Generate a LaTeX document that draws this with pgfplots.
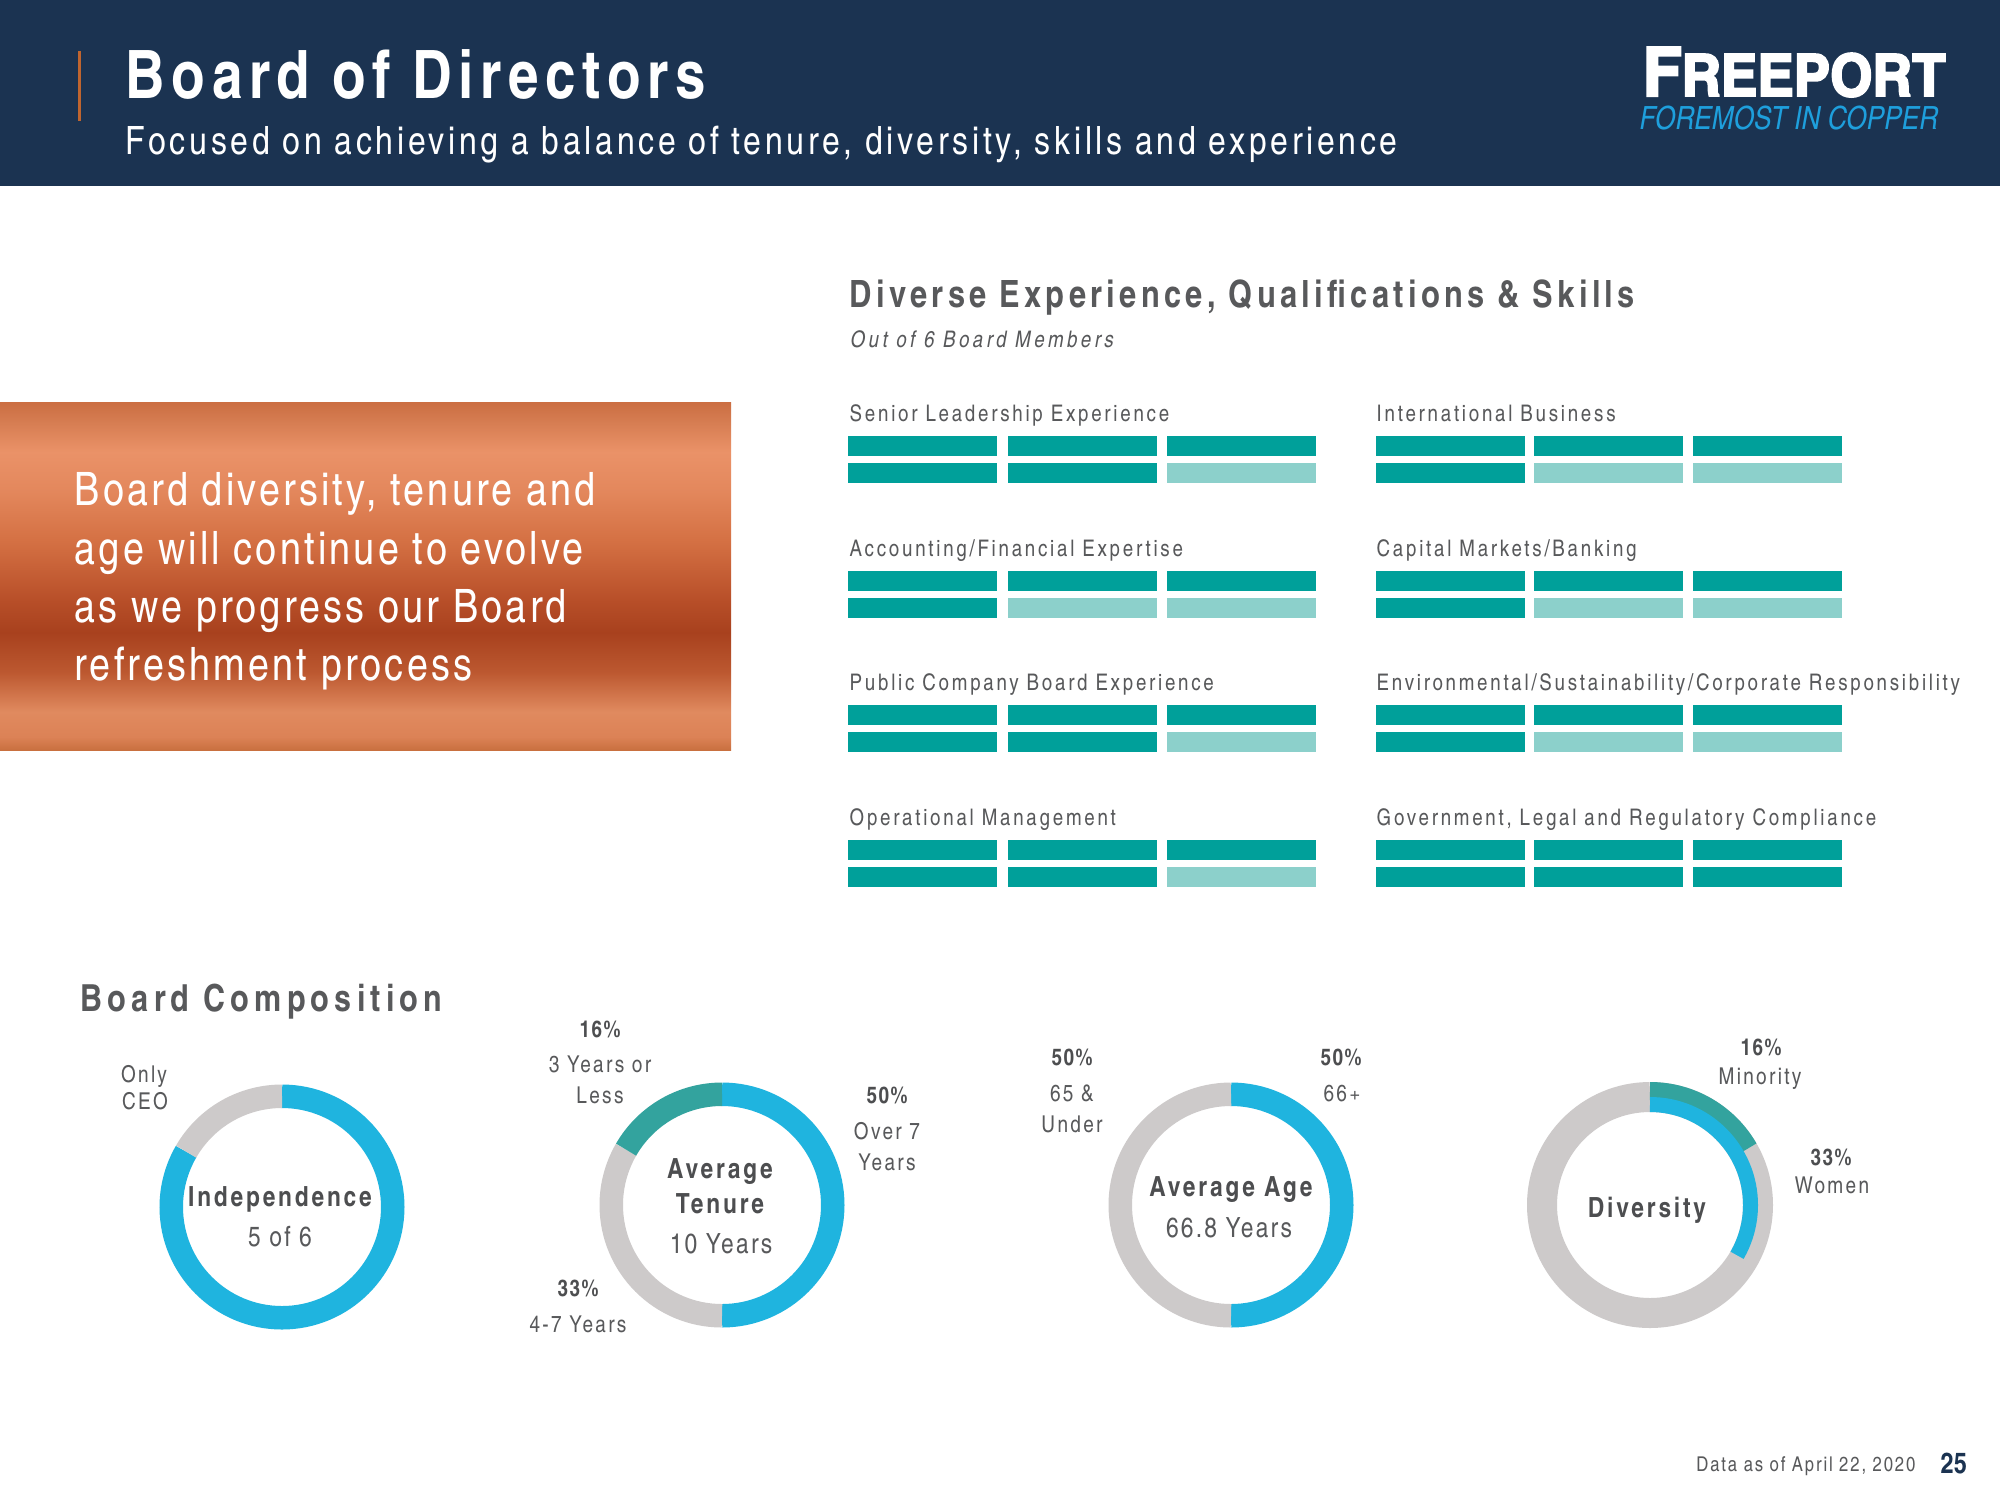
\documentclass[border=0pt]{standalone}
\usepackage{fontspec}
\usepackage{pgfplots}
\usepackage{pgfplotstable}
\pgfplotsset{compat=1.18}

\setmainfont{texgyreheroscn}[Extension=.otf,UprightFont=*-regular,BoldFont=*-bold,ItalicFont=*-italic,BoldItalicFont=*-bolditalic]
% condensed Heros with some tracking
\newcommand\mkfam[2]{\newfontfamily#1{texgyreheroscn}[Extension=.otf,UprightFont=*-regular,BoldFont=*-bold,ItalicFont=*-italic,BoldItalicFont=*-bolditalic,LetterSpace=#2]}
\mkfam\fcu{7}
\mkfam\fsub{9.5}
\mkfam\fti{10}
\mkfam\fdiv{11.5}
\mkfam\fsk{12}
\mkfam\fwide{14}
\mkfam\fout{15}
\mkfam\ffoot{9}
\mkfam\fnum{8}
\mkfam\flab{10}
\mkfam\fb{6}
\newfontfamily\flogo{texgyreheroscn}[Extension=.otf,UprightFont=*-bold,FakeBold=3]
\newcommand\fs[1]{\fontsize{#1pt}{#1pt}\selectfont}

\definecolor{navy}{HTML}{1B3351}
\definecolor{accent}{HTML}{C0652F}
\definecolor{txt}{HTML}{58595B}
\definecolor{txtd}{HTML}{4D4E50}
\definecolor{barD}{HTML}{00A09A}
\definecolor{barL}{HTML}{8CD0CB}
\definecolor{ringB}{HTML}{1FB4DF}
\definecolor{ringG}{HTML}{CDCACA}
\definecolor{ringT}{HTML}{33A39E}
\definecolor{fcxblue}{HTML}{1E9FDC}
\definecolor{cu0}{HTML}{CB6E42}
\definecolor{cu1}{HTML}{D67D52}
\definecolor{cu2}{HTML}{EA9268}
\definecolor{cu3}{HTML}{E3875C}
\definecolor{cu4}{HTML}{D47043}
\definecolor{cu5}{HTML}{B74E28}
\definecolor{cu6}{HTML}{A8411E}
\definecolor{cu7}{HTML}{BC5830}
\definecolor{cu8}{HTML}{E08A5F}
\definecolor{cu9}{HTML}{DC8256}
\definecolor{cu10}{HTML}{C9703F}

\pgfdeclareverticalshading{copper}{100bp}{color(0bp)=(cu10); color(25bp)=(cu10);
  color(26.9bp)=(cu9); color(30.5bp)=(cu8); color(36.2bp)=(cu7); color(41.9bp)=(cu6);
  color(46.3bp)=(cu5); color(54.9bp)=(cu4); color(62.1bp)=(cu3); color(67.8bp)=(cu2);
  color(72.1bp)=(cu1); color(75bp)=(cu0); color(100bp)=(cu0)}

% one skill segment, 149 x 20 px
\pgfdeclareplotmark{seg}{\pgfpathrectangle{\pgfpoint{-0.745cm}{-0.1cm}}{\pgfpoint{1.49cm}{0.2cm}}\pgfusepath{fill}}

% skill segments: centre x, centre y (px), d = has skill, l = not
\pgfplotstableread{
x y c
922.5 446 d
1082 446 d
1241.5 446 d
922.5 473 d
1082 473 d
1241.5 473 l
922.5 581 d
1082 581 d
1241.5 581 d
922.5 608 d
1082 608 l
1241.5 608 l
922.5 715 d
1082 715 d
1241.5 715 d
922.5 742 d
1082 742 d
1241.5 742 l
922.5 850 d
1082 850 d
1241.5 850 d
922.5 877 d
1082 877 d
1241.5 877 l
1450.5 446 d
1608.5 446 d
1767 446 d
1450.5 473 d
1608.5 473 l
1767 473 l
1450.5 581 d
1608.5 581 d
1767 581 d
1450.5 608 d
1608.5 608 l
1767 608 l
1450.5 715 d
1608.5 715 d
1767 715 d
1450.5 742 d
1608.5 742 l
1767 742 l
1450.5 850 d
1608.5 850 d
1767 850 d
1450.5 877 d
1608.5 877 d
1767 877 d
}\skills

% donut segment: cx, cy (px), mid radius, width (cm), from, to (share of the turn, clockwise from top), colour
\newcommand\ring[7]{%
  \draw[draw=#7, line width=#4cm] (axis cs:#1,#2) ++({90-360*(#5)}:#3cm)
    arc[start angle={90-360*(#5)}, end angle={90-360*(#6)}, radius=#3cm];}

\begin{document}
\begin{tikzpicture}
\fill[white] (0,0) rectangle (20,15);
\path[use as bounding box] (0,0) rectangle (20,15);
\begin{axis}[at={(0,0)}, anchor=south west, scale only axis,
  width=20cm, height=15cm, xmin=0, xmax=2000, ymin=0, ymax=1500,
  y dir=reverse, hide axis, clip=false]

% header
\fill[navy] (axis cs:0,0) rectangle (axis cs:2000,186);
\fill[accent] (axis cs:78,51) rectangle (axis cs:81,121);
\node[anchor=base west, white, inner sep=0pt, font={\fti\fs{19}\bfseries}] at (axis cs:125,98) {Board of Directors};
\node[anchor=base west, white, inner sep=0pt, font={\fsub\fs{11.1}}] at (axis cs:125,154) {Focused on achieving a balance of tenure, diversity, skills and experience};
\node[anchor=base west, white, inner sep=0pt] at (axis cs:1642,96) {\scalebox{1.14}[1]{\flogo\fs{19.4}F\fs{16.6}REEPORT}};
\node[anchor=base west, fcxblue, inner sep=0pt, font={\fs{9.1}\itshape}] at (axis cs:1639,129) {FOREMOST IN COPPER};

% copper panel
\shade[shading=copper] (axis cs:0,402) rectangle (axis cs:731,750);
\node[anchor=base west, white, inner sep=0pt, font={\fcu\fs{13.1}}] at (axis cs:74,505) {Board diversity, tenure and};
\node[anchor=base west, white, inner sep=0pt, font={\fcu\fs{13.1}}] at (axis cs:74,564) {age will continue to evolve};
\node[anchor=base west, white, inner sep=0pt, font={\fcu\fs{13.1}}] at (axis cs:74,622) {as we progress our Board};
\node[anchor=base west, white, inner sep=0pt, font={\fcu\fs{13.1}}] at (axis cs:74,680) {refreshment process};

% skills
\node[anchor=base west, txt, inner sep=0pt, font={\fdiv\fs{10.7}\bfseries}] at (axis cs:849,307) {Diverse Experience, Qualifications \& Skills};
\node[anchor=base west, txt, inner sep=0pt, font={\fout\fs{6.5}\itshape}] at (axis cs:850,347) {Out of 6 Board Members};

\addplot[scatter, only marks, scatter src=explicit symbolic,
  scatter/classes={d={mark=seg, fill=barD, draw=none}, l={mark=seg, fill=barL, draw=none}}]
  table[x=x, y=y, meta=c] {\skills};

\foreach \lx/\ly/\lt in {849/421/{Senior Leadership Experience}, 849/556/{Accounting/Financial Expertise},
  849/690/{Public Company Board Experience}, 849/825/{Operational Management},
  1376/421/{International Business}, 1376/556/{Capital Markets/Banking},
  1376/690/{Environmental/Sustainability/Corporate Responsibility}, 1376/825/{Government, Legal and Regulatory Compliance}}
  {\edef\tmp{\noexpand\node[anchor=base west, txt, inner sep=0pt, font={\noexpand\fsk\noexpand\fs{6.5}}] at (axis cs:\lx,\ly) {\lt};}\tmp}

% board composition
\node[anchor=base west, txt, inner sep=0pt, font={\fwide\fs{10.6}\bfseries}] at (axis cs:80,1011) {Board Composition};

% independence: 5 of 6
\ring{282}{1207}{1.1075}{0.235}{0}{5/6}{ringB}
\ring{282}{1207}{1.1075}{0.235}{5/6}{1}{ringG}
% tenure: 50 / 33 / 16
\ring{722}{1205}{1.1075}{0.235}{0}{3/6}{ringB}
\ring{722}{1205}{1.1075}{0.235}{3/6}{5/6}{ringG}
\ring{722}{1205}{1.1075}{0.235}{5/6}{1}{ringT}
% age: 50 / 50
\ring{1231}{1205}{1.1075}{0.235}{0}{1/2}{ringB}
\ring{1231}{1205}{1.1075}{0.235}{1/2}{1}{ringG}
% diversity: 16 minority, 33 women
\ring{1650}{1205}{1.08}{0.30}{0}{1}{ringG}
\ring{1650}{1205}{1.14}{0.18}{0}{1/6}{ringT}
\ring{1650}{1205}{1.005}{0.15}{0}{2/6}{ringB}

\tikzset{lab/.style={anchor=base, txt, inner sep=0pt, font={\flab\fs{6.6}}},
         labb/.style={anchor=base, txtd, inner sep=0pt, font={\fb\fs{6.6}\bfseries}},
         ctr/.style={anchor=base, txtd, inner sep=0pt, font={\fti\fs{7.9}\bfseries}},
         ctrn/.style={anchor=base, txt, inner sep=0pt, font={\fnum\fs{7.9}}}}
\node[lab] at (axis cs:144,1082) {Only};
\node[lab] at (axis cs:145,1109) {CEO};
\node[ctr] at (axis cs:280,1206) {Independence};
\node[ctrn] at (axis cs:280,1246) {5 of 6};

\node[labb] at (axis cs:600,1037) {16\%};
\node[lab] at (axis cs:600,1072) {3 Years or};
\node[lab] at (axis cs:600,1103) {Less};
\node[labb] at (axis cs:887,1103) {50\%};
\node[lab] at (axis cs:887,1139) {Over 7};
\node[lab] at (axis cs:887,1170) {Years};
\node[labb] at (axis cs:578,1296) {33\%};
\node[lab] at (axis cs:578,1332) {4-7 Years};
\node[ctr] at (axis cs:720,1178) {Average};
\node[ctr] at (axis cs:720,1213) {Tenure};
\node[ctrn] at (axis cs:721,1253) {10 Years};

\node[labb] at (axis cs:1072,1065) {50\%};
\node[lab] at (axis cs:1072,1101) {65 \&};
\node[lab] at (axis cs:1072,1132) {Under};
\node[labb] at (axis cs:1341,1065) {50\%};
\node[lab] at (axis cs:1342,1101) {66+};
\node[ctr] at (axis cs:1231,1196) {Average Age};
\node[ctrn] at (axis cs:1229,1237) {66.8 Years};

\node[labb] at (axis cs:1761,1055) {16\%};
\node[lab] at (axis cs:1760,1084) {Minority};
\node[labb] at (axis cs:1831,1165) {33\%};
\node[lab] at (axis cs:1832,1193) {Women};
\node[ctr] at (axis cs:1647,1217) {Diversity};

% footer
\node[anchor=base east, txt, inner sep=0pt, font={\ffoot\fs{5.8}}] at (axis cs:1916,1471) {Data as of April 22, 2020};
\node[anchor=base west, navy, inner sep=0pt, font={\fs{8.2}\bfseries}] at (axis cs:1940,1473) {25};
\end{axis}
\end{tikzpicture}
\end{document}
